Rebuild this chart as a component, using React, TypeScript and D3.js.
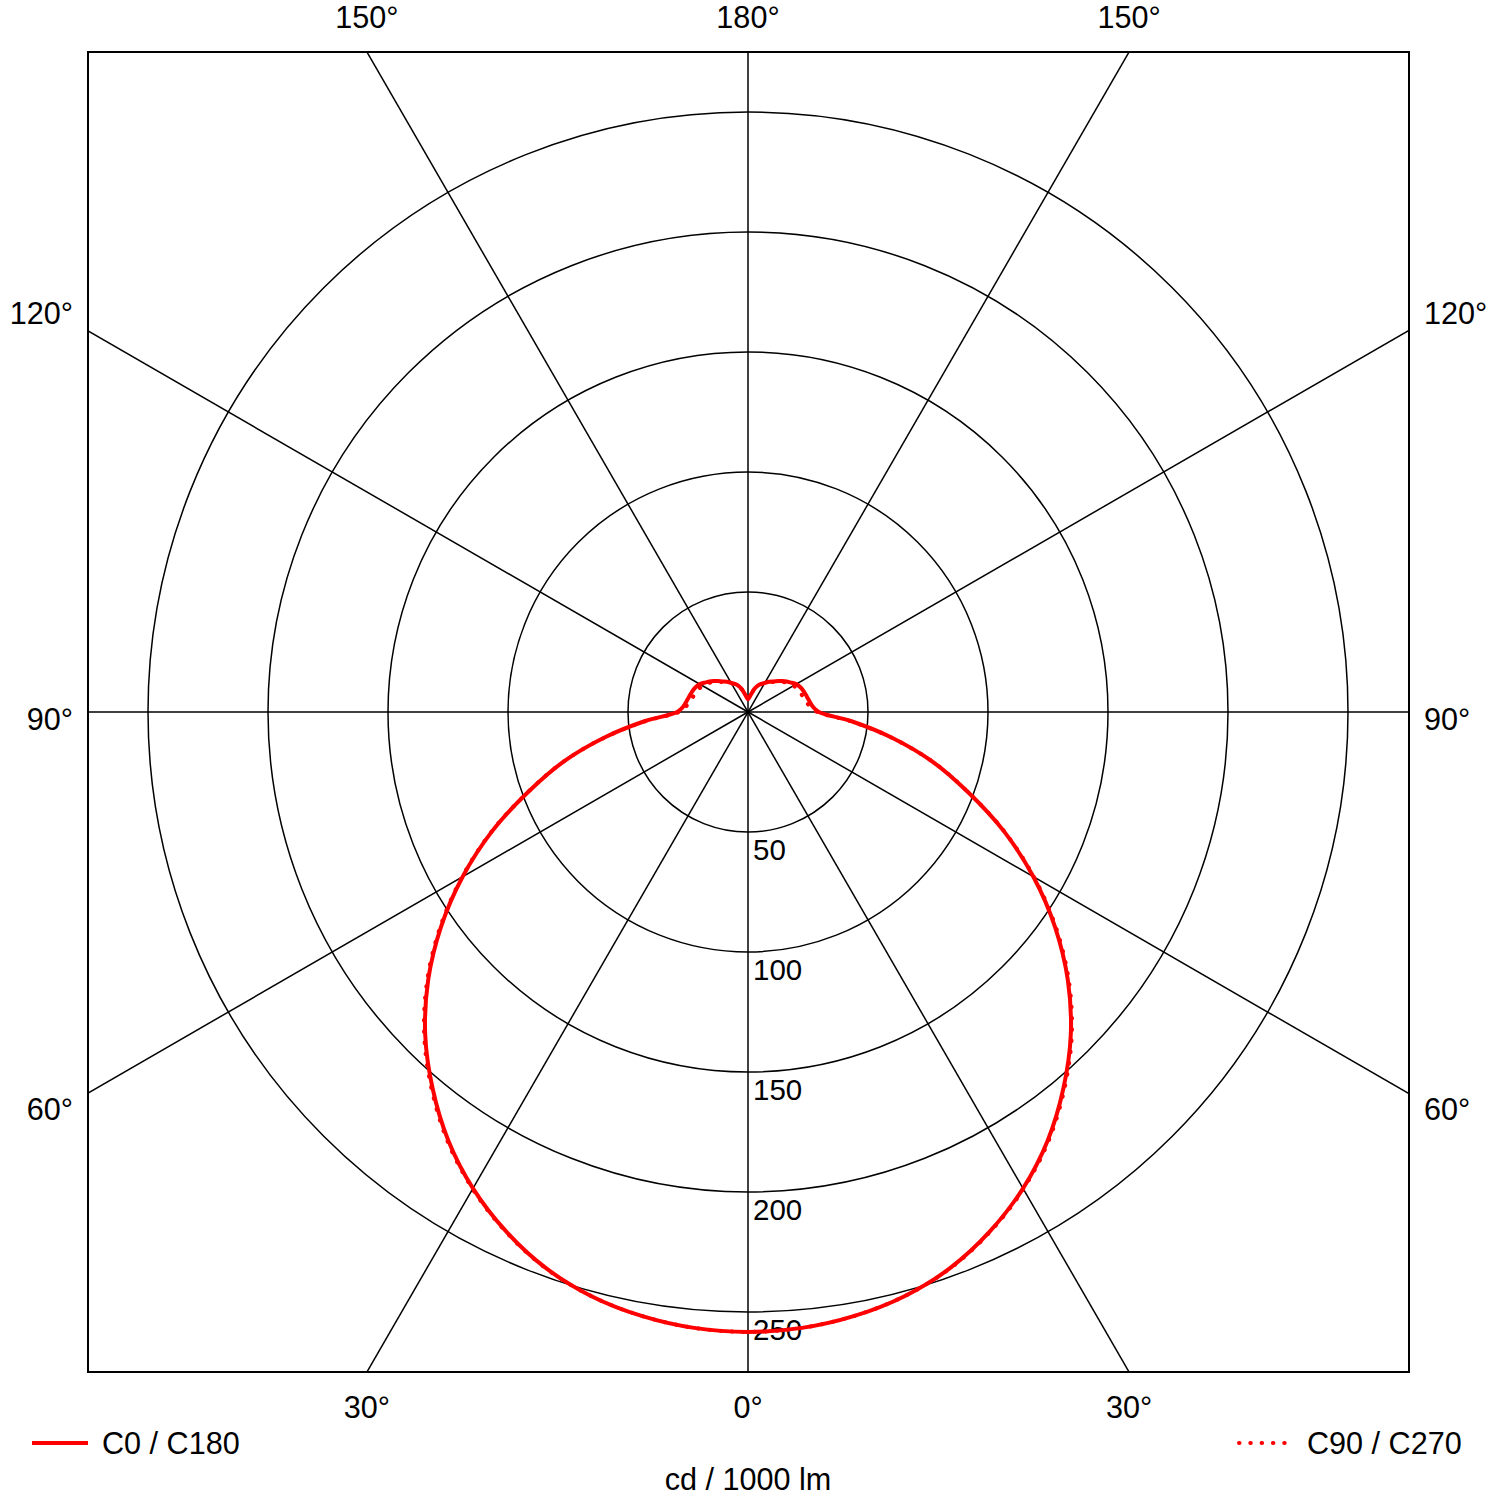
import * as d3 from 'd3'

// gamma angles (deg), 0 = straight down
const gammas = [
  0, 5, 10, 15, 20, 25, 30, 35, 40, 45, 50, 55, 60, 65, 70, 75, 80, 85, 90,
  95, 100, 105, 110, 115, 120, 125, 130, 135, 140, 145, 150, 155, 160, 165, 170, 175, 180,
]

// cd / 1000 lm
const c0c180 = [
  258.3, 257.6, 255.5, 252.0, 246.5, 238.7, 229.2, 217.8, 204.5, 190.2, 174.0, 156.2, 137.3, 117.7, 97.5, 79.4, 60.5, 43.0, 29.5,
  27.0, 26.0, 25.3, 24.8, 24.2, 23.2, 21.5, 20.0, 18.2, 16.6, 15.4, 14.0, 12.9, 11.6, 9.8, 7.6, 6.0, 5.4,
]
const c90c270 = [
  258.3, 257.6, 255.5, 252.0, 246.6, 238.9, 229.5, 218.3, 205.1, 190.8, 174.6, 156.7, 137.6, 117.9, 97.6, 79.4, 60.3, 42.5, 28.8,
  26.0, 24.6, 23.8, 23.3, 22.6, 21.9, 20.6, 19.4, 17.8, 16.3, 15.1, 13.8, 12.7, 11.4, 9.6, 7.5, 5.9, 5.4,
]

const ringValues = [50, 100, 150, 200, 250]
const spokeAngles = [0, 30, 60, 90, 120, 150, 180, 210, 240, 270, 300, 330]
const topLabels = ['150°', '180°', '150°']
const bottomLabels = ['30°', '0°', '30°']
const sideLabels = ['120°', '90°', '60°']
const legendItems = ['C0 / C180', 'C90 / C270']
const unitLabel = 'cd / 1000 lm'

const W = 1500, H = 1500
const CX = 748, CY = 712
const BOX = { x0: 88, y0: 52, x1: 1409, y1: 1372 }
const RED = '#ff0000'
const FONT = '"Liberation Sans", Arial, Helvetica, sans-serif'
const FS = 30.6

export default function App() {
  const r = d3.scaleLinear().domain([0, 250]).range([0, 600])

  // full closed profile: left half (gamma 180 -> 0) then right half (0 -> 180)
  function profile(vals: number[]) {
    const pts: [number, number][] = []
    for (let i = gammas.length - 1; i >= 0; i--) pts.push([Math.PI + (gammas[i] * Math.PI) / 180, r(vals[i])])
    for (let i = 1; i < gammas.length; i++) pts.push([Math.PI - (gammas[i] * Math.PI) / 180, r(vals[i])])
    return d3.lineRadial<[number, number]>()
      .angle(d => d[0]).radius(d => d[1])
      .curve(d3.curveCatmullRom.alpha(0.5))(pts) ?? ''
  }

  const L = 2000
  const halfW = CX - BOX.x0
  const edgeDx = (CY - BOX.y0) * Math.tan(Math.PI / 6)
  const sideDy = halfW / Math.tan(Math.PI / 3)
  const sideYs = [CY - sideDy, CY, CY + sideDy]
  const sideShift = [-7, 18, 27]

  return (
    <svg width={W} height={H} style={{ position: 'absolute', left: 0, top: 0, background: '#fff' }}
      fontFamily={FONT}>
      <defs>
        <clipPath id="box">
          <rect x={BOX.x0} y={BOX.y0} width={BOX.x1 - BOX.x0} height={BOX.y1 - BOX.y0} />
        </clipPath>
      </defs>
      <rect x={0} y={0} width={W} height={H} fill="#fff" />

      <g clipPath="url(#box)">
        {spokeAngles.map(a => {
          const t = (a * Math.PI) / 180
          return (
            <line key={a} x1={CX} y1={CY} x2={CX + L * Math.sin(t)} y2={CY + L * Math.cos(t)}
              stroke="#000" strokeWidth={1.5} />
          )
        })}
        {ringValues.map(v => (
          <circle key={v} cx={CX} cy={CY} r={r(v)} fill="none" stroke="#000" strokeWidth={1.5} />
        ))}
      </g>
      <rect x={BOX.x0} y={BOX.y0} width={BOX.x1 - BOX.x0} height={BOX.y1 - BOX.y0}
        fill="none" stroke="#000" strokeWidth={2} />

      {ringValues.map(v => (
        <text key={v} x={CX + 5} y={CY + r(v) + 28} fontSize={29.5} fill="#000">{v}</text>
      ))}

      <g transform={`translate(${CX},${CY})`}>
        <path d={profile(c0c180)} fill="none" stroke={RED} strokeWidth={4} strokeLinejoin="round" />
        <path d={profile(c90c270)} fill="none" stroke={RED} strokeWidth={4}
          strokeLinecap="round" strokeDasharray="0.5 10.8" />
      </g>

      {topLabels.map((t, i) => (
        <text key={'t' + i} x={CX + (i - 1) * edgeDx} y={28} fontSize={FS} textAnchor="middle">{t}</text>
      ))}
      {bottomLabels.map((t, i) => (
        <text key={'b' + i} x={CX + (i - 1) * edgeDx} y={1418} fontSize={FS} textAnchor="middle">{t}</text>
      ))}
      {sideLabels.map((t, i) => (
        <g key={'s' + i}>
          <text x={BOX.x0 - 15} y={sideYs[i] + sideShift[i]} fontSize={FS} textAnchor="end">{t}</text>
          <text x={BOX.x1 + 15} y={sideYs[i] + sideShift[i]} fontSize={FS} textAnchor="start">{t}</text>
        </g>
      ))}

      {/* legend */}
      <line x1={32} x2={88} y1={1443} y2={1443} stroke={RED} strokeWidth={4} />
      <text x={102} y={1454} fontSize={FS}>{legendItems[0]}</text>
      <line x1={1239} x2={1294} y1={1443} y2={1443} stroke={RED} strokeWidth={4}
        strokeLinecap="round" strokeDasharray="0.5 10.8" />
      <text x={1307} y={1454} fontSize={FS}>{legendItems[1]}</text>

      <text x={CX} y={1490} fontSize={FS} textAnchor="middle">{unitLabel}</text>
    </svg>
  )
}
